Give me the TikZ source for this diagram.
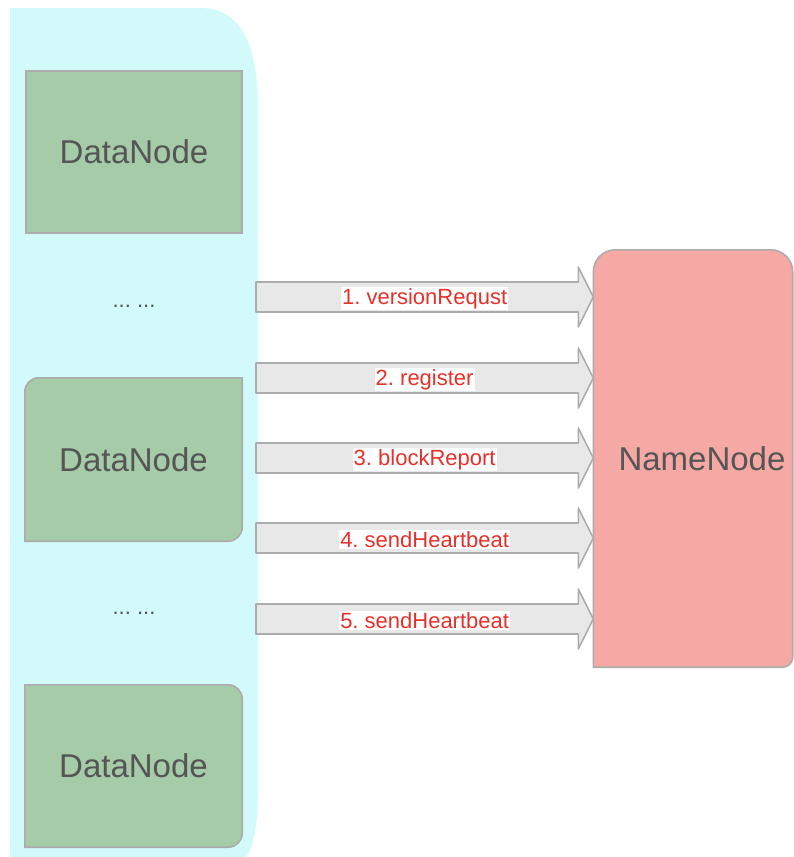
\documentclass[tikz,border=0pt]{standalone}
\usepackage{fontspec}
\setmainfont{Liberation Sans}
\usetikzlibrary{calc,backgrounds}
\frenchspacing
\definecolor{panelcyan}{RGB}{210,250,250}
\definecolor{dngreen}{RGB}{165,203,168}
\definecolor{nnred}{RGB}{246,168,165}
\definecolor{boxgrey}{RGB}{172,172,172}
\definecolor{arrowfill}{RGB}{232,232,232}
\definecolor{txtgrey}{RGB}{85,85,85}
\definecolor{lblred}{RGB}{232,48,42}
\tikzset{
  dnbox/.style={draw=boxgrey,line width=1.6pt,fill=dngreen},
  nnbox/.style={draw=boxgrey,line width=1.6pt,fill=nnred},
  boxtext/.style={font=\fontsize{33}{36}\selectfont,text=txtgrey,inner sep=0pt},
  flow/.style={draw=boxgrey,line width=1.6pt,fill=arrowfill,line join=round},
  flowlabel/.style={fill=white,text=lblred,font=\fontsize{22}{24}\selectfont,inner sep=1pt},
  moredots/.style={text=txtgrey,font=\fontsize{22}{24}\selectfont}
}
\begin{document}
\begin{tikzpicture}[x=1pt,y=-1pt]
\useasboundingbox (0,0) rectangle (794,857);
% data nodes and name node
\node[boxtext,minimum width=216pt,minimum height=162pt] (dn1) at (134,152) {DataNode};
\node[boxtext,minimum width=217pt,minimum height=163pt] (dn2) at (133.5,459.5) {DataNode};
\node[boxtext,minimum width=217pt,minimum height=162pt] (dn3) at (133.5,766) {DataNode};
\node[boxtext,minimum width=199pt,minimum height=417pt] (nn) at (693,458.5) {\hspace*{18pt}NameNode};
\node[moredots] (gap1) at (134,306) {... ...};
\node[moredots] (gap2) at (134,613) {... ...};
\begin{pgfonlayer}{background}
  % panel
  \fill[panelcyan] (10,8) -- (200,8) .. controls (242,8) and (255,45) .. (258,95)
    -- (258,790) .. controls (258,830) and (252,850) .. (246,857) -- (10,857) -- cycle;
  \draw[dnbox] (dn1.north west) rectangle (dn1.south east);
  \draw[dnbox] (dn2.south west) [rounded corners=14pt] -- (dn2.north west) [sharp corners]
    -- (dn2.north east) [rounded corners=14pt] -- (dn2.south east) [sharp corners] -- cycle;
  \draw[dnbox] (dn3.north west) [rounded corners=14pt] -- (dn3.north east)
    -- (dn3.south east) [sharp corners] -- (dn3.south west) -- cycle;
  \draw[nnbox] (nn.south west) [rounded corners=22pt] -- (nn.north west) -- (nn.north east)
    [rounded corners=10pt] -- (nn.south east) [sharp corners] -- cycle;
\end{pgfonlayer}
% requests
\foreach \i/\y/\txt in {1/297/{1. versionRequst},2/378/{2. register},3/458/{3. blockReport},
    4/538/{4. sendHeartbeat},5/619/{5. sendHeartbeat}} {
  \coordinate (s\i) at (256,\y);
  \coordinate (t\i) at (nn.west |- s\i);
  \draw[flow] ($(s\i)+(0,-15)$) -- ($(t\i)+(-15,-15)$) -- ($(t\i)+(-15,-30)$) -- (t\i)
    -- ($(t\i)+(-15,30)$) -- ($(t\i)+(-15,15)$) -- ($(s\i)+(0,15)$) -- cycle;
  \path (s\i) -- (t\i) node[midway,flowlabel,yshift=-1.5pt] (l\i) {\txt};
}
\end{tikzpicture}
\end{document}
